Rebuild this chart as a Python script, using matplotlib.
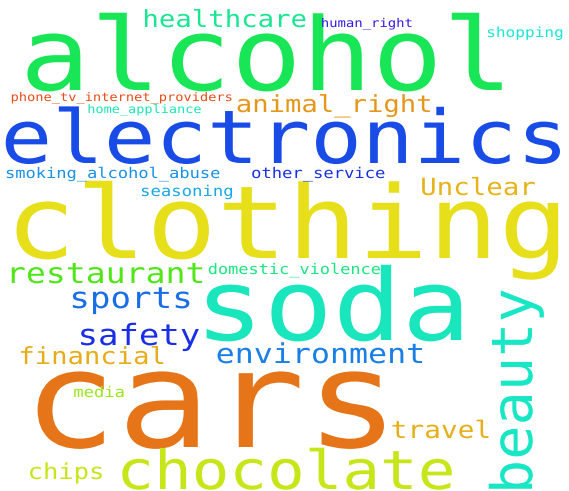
import colorsys
import matplotlib
matplotlib.use("Agg")
import matplotlib.pyplot as plt
from matplotlib.patheffects import AbstractPathEffect
from matplotlib.transforms import Affine2D

# ---- data (words of the cloud, larger = more frequent) ----
words = ["alcohol", "electronics", "clothing", "soda", "cars", "chocolate", "beauty",
         "healthcare", "human_right", "shopping", "phone_tv_internet_providers",
         "home_appliance", "animal_right", "smoking_alcohol_abuse", "other_service",
         "seasoning", "Unclear", "restaurant", "domestic_violence", "sports", "safety",
         "environment", "financial", "media", "travel", "chips"]
font_px = [101, 74, 101, 99, 135, 54, 57,
           23.6, 12.0, 13.9, 11.8,
           11.7, 23.5, 14.7, 14.8,
           14.9, 23.7, 28.6, 14.6, 29.5, 29.3,
           27.3, 23.5, 14.8, 24.0, 22.0]

# ---- layout (centre x, baseline y in pixels) and style ----
center_x = [266, 284, 287, 333, 211, 286, 532,
            225, 367, 525, 122,
            145, 334, 113, 318,
            187, 478, 106, 294, 131, 139,
            320, 92, 99, 441, 66]
baseline_y = [90, 163, 258, 340, 447, 489, 391,
              27, 27, 37, 101,
              113, 112, 178, 178,
              196, 195, 283, 274, 308, 345,
              363, 364, 397, 438, 479]
vertical = ["beauty"]
hues = [138, 225, 58, 168, 27, 69, 170,
        155, 248, 175, 15,
        165, 37, 205, 233,
        198, 45, 104, 150, 215, 234,
        210, 43, 82, 44, 69]

W, H = 569, 491
SX = W / H  # horizontal stretch of the original square cloud


class StretchX(AbstractPathEffect):
    """Stretch glyph outlines horizontally about their own centre."""
    def __init__(self, sx=1.0):
        super().__init__()
        self.sx = sx

    def draw_path(self, renderer, gc, tpath, affine, rgbFace=None):
        ext = tpath.get_extents(affine)
        cx = 0.5 * (ext.x0 + ext.x1)
        aff = affine + Affine2D().translate(-cx, 0).scale(self.sx, 1.0).translate(cx, 0)
        renderer.draw_path(gc, tpath, aff, rgbFace)


fig = plt.figure(figsize=(W / 100, H / 100), dpi=100, facecolor="white")
ax = fig.add_axes([0, 0, 1, 1])
ax.set_xlim(0, W)
ax.set_ylim(H, 0)
ax.axis("off")

for w, s, x, y, h in zip(words, font_px, center_x, baseline_y, hues):
    col = colorsys.hls_to_rgb(h / 360.0, 0.5, 0.8)
    if w in vertical:
        ax.text(x, y, w, fontsize=s * 0.72, family="DejaVu Sans Mono", color=col,
                ha="center", va="baseline", rotation=90, rotation_mode="anchor",
                path_effects=[StretchX(1.0)])
    else:
        ax.text(x, y, w, fontsize=s * 0.72, family="DejaVu Sans Mono", color=col,
                ha="center", va="baseline", path_effects=[StretchX(SX)])

fig.savefig("out.png", dpi=100, facecolor="white")
